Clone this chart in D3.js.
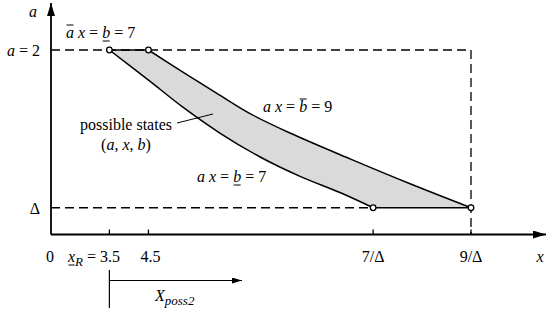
<!DOCTYPE html>
<html>
<head>
<meta charset="utf-8">
<script src="https://cdn.jsdelivr.net/npm/d3@7"></script>
<style>
  body { margin: 0; background: #fff; }
  svg text { font-family: "Liberation Serif", "Times New Roman", serif; font-size: 16px; fill: #000; }
</style>
</head>
<body>
<svg id="chart" width="550" height="313"></svg>
<script>
// schematic units: x runs 0..10 (9/Delta at 10), a runs 0..2
const aTop = 2;
const delta = 0.29;

// curve a x = b_ = 7 (left edge of the band)
const lowerCurve = [[1.39, 2], [2.36, 1.66], [3.14, 1.38], [4.02, 1.10], [4.98, 0.84], [5.93, 0.63], [6.88, 0.455], [7.67, 0.29]];
// curve a x = b^ = 9 (right edge of the band)
const upperCurve = [[2.32, 2], [3.14, 1.76], [3.95, 1.53], [4.74, 1.31], [5.69, 1.10], [7.12, 0.82], [8.55, 0.55], [10, 0.29]];

const xTickVals = [0, 1.39, 2.32, 7.67, 10];
const xTickLabels = ["0", "xR", "4.5", "7/Δ", "9/Δ"];
const cornerPoints = [[1.39, 2], [2.32, 2], [7.67, 0.29], [10, 0.29]];

const svg = d3.select("#chart");

const x = d3.scaleLinear().domain([0, 10]).range([51, 471]);
const y = d3.scaleLinear().domain([0, 2]).range([234.5, 50]);

const defs = svg.append("defs");
defs.append("marker")
    .attr("id", "bigArrow")
    .attr("viewBox", "0 0 13 8")
    .attr("refX", 13).attr("refY", 4)
    .attr("markerWidth", 13).attr("markerHeight", 8)
    .attr("markerUnits", "userSpaceOnUse")
    .attr("orient", "auto")
    .append("path").attr("d", "M0,0 L13,4 L0,8 Z").attr("fill", "#000");
defs.append("marker")
    .attr("id", "smallArrow")
    .attr("viewBox", "0 0 10 6")
    .attr("refX", 10).attr("refY", 3)
    .attr("markerWidth", 10).attr("markerHeight", 6)
    .attr("markerUnits", "userSpaceOnUse")
    .attr("orient", "auto")
    .append("path").attr("d", "M0,0 L10,3 L0,6 Z").attr("fill", "#000");

const line = d3.line()
    .x(d => x(d[0]))
    .y(d => y(d[1]))
    .curve(d3.curveCatmullRom.alpha(0.5));

// shaded band
const bandPath = line(lowerCurve) + "L" + line(upperCurve.slice().reverse()).slice(1) + "Z";
svg.append("path")
    .attr("d", bandPath)
    .attr("fill", "#dadada")
    .attr("stroke", "none");

// dashed guides
const dash = "9,5";
svg.append("line")
    .attr("x1", x(0)).attr("x2", x(10))
    .attr("y1", y(aTop)).attr("y2", y(aTop))
    .attr("stroke", "#000").attr("stroke-width", 1.3).attr("stroke-dasharray", dash);
svg.append("line")
    .attr("x1", x(10)).attr("x2", x(10))
    .attr("y1", y(aTop)).attr("y2", y(0))
    .attr("stroke", "#000").attr("stroke-width", 1.3).attr("stroke-dasharray", dash);
svg.append("line")
    .attr("x1", x(0)).attr("x2", x(7.67))
    .attr("y1", y(delta)).attr("y2", y(delta))
    .attr("stroke", "#000").attr("stroke-width", 1.3).attr("stroke-dasharray", dash);

// band edges
svg.append("line")
    .attr("x1", x(1.39)).attr("x2", x(2.32))
    .attr("y1", y(aTop)).attr("y2", y(aTop))
    .attr("stroke", "#000").attr("stroke-width", 1.5);
svg.append("line")
    .attr("x1", x(7.67)).attr("x2", x(10))
    .attr("y1", y(delta)).attr("y2", y(delta))
    .attr("stroke", "#000").attr("stroke-width", 1.5);
[lowerCurve, upperCurve].forEach(c => {
    svg.append("path")
        .attr("d", line(c))
        .attr("fill", "none")
        .attr("stroke", "#000")
        .attr("stroke-width", 1.5);
});

// axes
svg.append("line")
    .attr("x1", x(0)).attr("y1", y(0))
    .attr("x2", 546).attr("y2", y(0))
    .attr("stroke", "#000").attr("stroke-width", 1.8)
    .attr("marker-end", "url(#bigArrow)");
svg.append("line")
    .attr("x1", x(0)).attr("y1", y(0))
    .attr("x2", x(0)).attr("y2", 3)
    .attr("stroke", "#000").attr("stroke-width", 1.8)
    .attr("marker-end", "url(#bigArrow)");

svg.selectAll(".tick")
    .data(xTickVals.slice(1))
    .enter().append("line")
    .attr("class", "tick")
    .attr("x1", d => x(d)).attr("x2", d => x(d))
    .attr("y1", y(0) - 5).attr("y2", y(0))
    .attr("stroke", "#000").attr("stroke-width", 1.3);

// corner markers
svg.selectAll(".corner")
    .data(cornerPoints)
    .enter().append("circle")
    .attr("class", "corner")
    .attr("cx", d => x(d[0])).attr("cy", d => y(d[1]))
    .attr("r", 2.8)
    .attr("fill", "#fff").attr("stroke", "#000").attr("stroke-width", 1.3);

// text helper: parts = [{t, i (italic), sub, over, under}]
function label(px, py, parts, anchor) {
    const t = svg.append("text")
        .attr("x", px).attr("y", py)
        .attr("text-anchor", anchor || "start");
    let idx = 0;
    const marks = [];
    parts.forEach(p => {
        const s = t.append("tspan").text(p.t);
        if (p.i) s.style("font-style", "italic");
        if (p.sub) s.attr("dy", 4).style("font-size", "13px");
        if (p.up) s.attr("dy", -4);
        if (p.over || p.under) marks.push({ start: idx, end: idx + p.t.length - 1, over: p.over });
        idx += p.t.length;
    });
    const node = t.node();
    marks.forEach(m => {
        const a = node.getStartPositionOfChar(m.start);
        const b = node.getEndPositionOfChar(m.end);
        const ly = m.over ? a.y - 13 : a.y + 3;
        svg.append("line")
            .attr("x1", a.x + 0.5).attr("x2", b.x - 0.5)
            .attr("y1", ly).attr("y2", ly)
            .attr("stroke", "#000").attr("stroke-width", 1);
    });
    return t;
}

// y axis labels
label(33, 17, [{ t: "a", i: true }], "middle");
label(40, 56, [{ t: "a", i: true }, { t: " = 2" }], "end");
label(40, 214, [{ t: "Δ" }], "end");

// x axis labels
const labelY = 262;
label(x(xTickVals[0]) - 1, labelY, [{ t: xTickLabels[0] }], "middle");
label(68, labelY, [{ t: "x", i: true, under: true }, { t: "R", i: true, sub: true }, { t: " = 3.5", up: true }]);
label(x(xTickVals[2]) + 2, labelY, [{ t: xTickLabels[2] }], "middle");
label(x(xTickVals[3]), labelY, [{ t: xTickLabels[3] }], "middle");
label(x(xTickVals[4]), labelY, [{ t: xTickLabels[4] }], "middle");
label(540, labelY, [{ t: "x", i: true }], "middle");

// curve labels
label(66, 38, [{ t: "a", i: true, over: true }, { t: " " }, { t: "x", i: true }, { t: " = " }, { t: "b", i: true, under: true }, { t: " = 7" }]);
label(263, 112, [{ t: "a", i: true }, { t: " " }, { t: "x", i: true }, { t: " = " }, { t: "b", i: true, over: true }, { t: " = 9" }]);
label(197, 182, [{ t: "a", i: true }, { t: " " }, { t: "x", i: true }, { t: " = " }, { t: "b", i: true, under: true }, { t: " = 7" }]);

// possible states annotation
label(126, 130, [{ t: "possible states" }], "middle");
label(126, 150, [{ t: "(" }, { t: "a", i: true }, { t: ", " }, { t: "x", i: true }, { t: ", " }, { t: "b", i: true }, { t: ")" }], "middle");
svg.append("line")
    .attr("x1", 177).attr("y1", 123)
    .attr("x2", 213).attr("y2", 114)
    .attr("stroke", "#000").attr("stroke-width", 1);

// X_poss2 range arrow
svg.append("line")
    .attr("x1", x(xTickVals[1])).attr("x2", x(xTickVals[1]))
    .attr("y1", 270).attr("y2", 308)
    .attr("stroke", "#000").attr("stroke-width", 1.2);
svg.append("line")
    .attr("x1", x(xTickVals[1])).attr("x2", 242)
    .attr("y1", 280.5).attr("y2", 280.5)
    .attr("stroke", "#000").attr("stroke-width", 1.2)
    .attr("marker-end", "url(#smallArrow)");
label(155, 301, [{ t: "X", i: true }, { t: "poss2", i: true, sub: true }]);
</script>
</body>
</html>
